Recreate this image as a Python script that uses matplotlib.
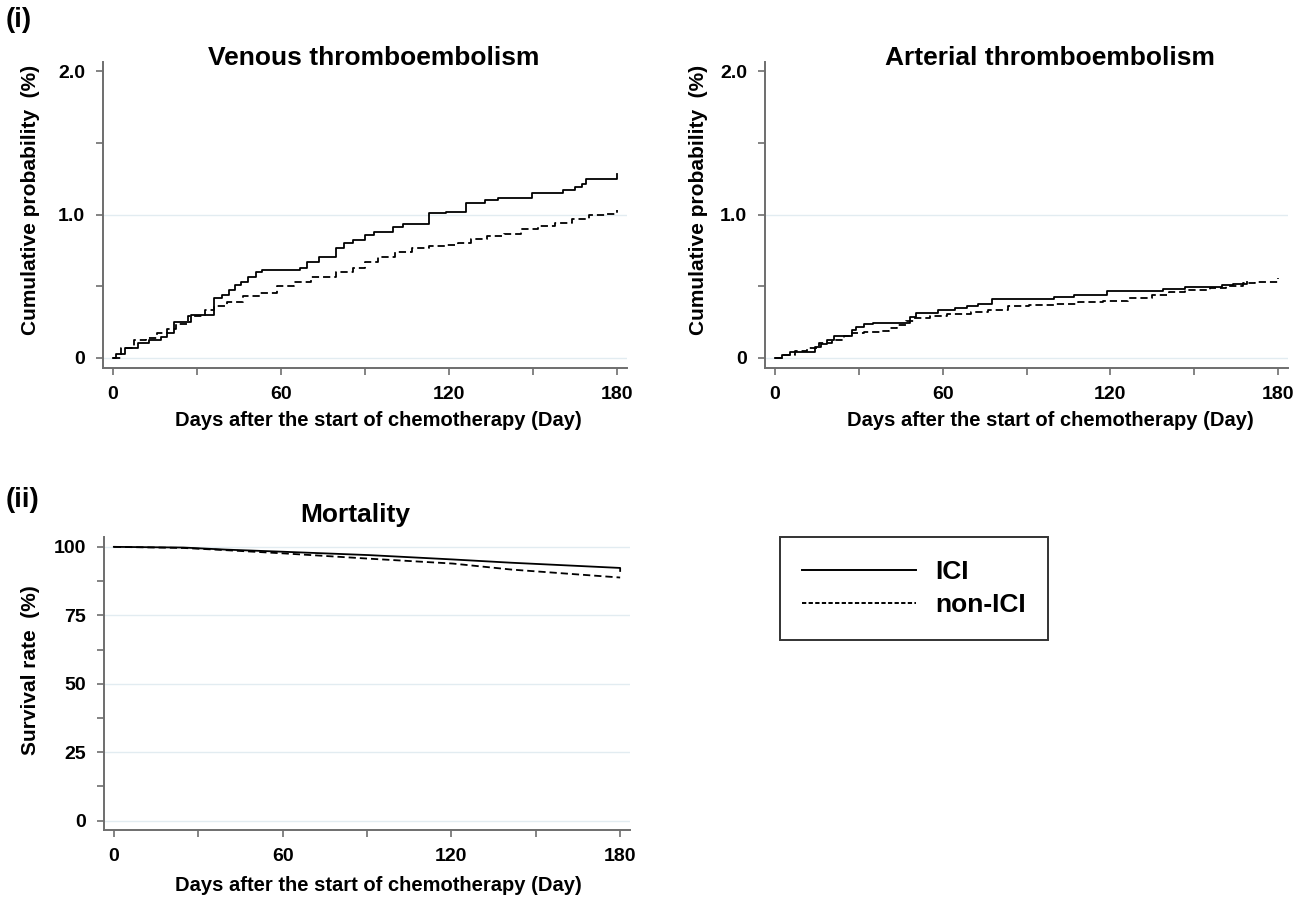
import matplotlib
matplotlib.use('Agg')
import matplotlib.pyplot as plt
from matplotlib.ticker import FixedLocator
from matplotlib.lines import Line2D

plt.rcParams['font.family'] = ['Liberation Sans', 'DejaVu Sans']
plt.rcParams['font.weight'] = 'bold'

# ---------------- data ----------------
vte_ici_days = [0, 1.0, 4.5, 9.0, 12.8, 17.3, 19.5, 21.8, 27.8, 36.1, 39.1, 41.3, 43.6, 45.8,
                48.1, 51.1, 53.3, 66.9, 69.2, 73.6, 79.6, 82.6, 85.6, 90.1, 93.1, 99.9,
                103.7, 112.7, 119.0, 126.2, 133.0, 137.5, 149.5, 160.8, 165.0, 167.5, 169.0, 180.0]
vte_ici_vals = [0, 0.03, 0.07, 0.104, 0.127, 0.146, 0.174, 0.248, 0.30, 0.417, 0.44, 0.475, 0.51,
                0.53, 0.567, 0.60, 0.613, 0.625, 0.671, 0.706, 0.764, 0.80, 0.826, 0.856, 0.88,
                0.914, 0.937, 1.01, 1.02, 1.08, 1.10, 1.118, 1.15, 1.17, 1.19, 1.215, 1.25, 1.285]

vte_non_days = [0, 3.0, 7.5, 12.0, 15.8, 19.5, 22.5, 27.0, 33.0, 36.0, 40.6, 46.6, 52.6, 58.6,
                64.6, 70.6, 79.6, 85.6, 90.1, 94.7, 100.7, 106.7, 112.7, 118.7, 123.2, 127.7,
                133.7, 139.7, 145.7, 151.7, 157.7, 163.8, 169.8, 175.8, 180.0]
vte_non_vals = [0, 0.07, 0.127, 0.14, 0.174, 0.20, 0.24, 0.29, 0.336, 0.36, 0.39, 0.43, 0.456,
                0.50, 0.53, 0.567, 0.60, 0.625, 0.67, 0.706, 0.74, 0.77, 0.78, 0.79, 0.80, 0.833,
                0.85, 0.868, 0.90, 0.92, 0.94, 0.972, 0.995, 1.007, 1.035]

ate_ici_days = [0, 2.6, 5.6, 14.4, 16.6, 18.8, 21.0, 27.6, 29.1, 32.0, 35.0, 48.2, 50.4, 58.5,
                64.4, 68.8, 72.5, 77.6, 99.7, 107.0, 118.8, 138.7, 146.8, 160.0, 163.7, 168.8]
ate_ici_vals = [0, 0.023, 0.04, 0.08, 0.10, 0.126, 0.15, 0.195, 0.218, 0.237, 0.246, 0.287,
                0.315, 0.338, 0.35, 0.36, 0.38, 0.414, 0.425, 0.437, 0.467, 0.483, 0.494, 0.506,
                0.517, 0.533]

ate_non_days = [0, 2.6, 7.1, 11.5, 15.9, 20.3, 24.7, 27.6, 32.0, 37.9, 40.9, 43.8, 46.8, 49.7,
                55.6, 61.5, 70.3, 76.2, 83.5, 90.9, 99.7, 108.5, 117.4, 126.2, 135.0, 140.9,
                146.8, 155.6, 161.5, 167.4, 171.8, 180.0]
ate_non_vals = [0, 0.023, 0.046, 0.069, 0.103, 0.126, 0.15, 0.172, 0.184, 0.19, 0.207, 0.23,
                0.26, 0.276, 0.292, 0.306, 0.322, 0.338, 0.36, 0.368, 0.38, 0.39, 0.40, 0.42,
                0.437, 0.46, 0.476, 0.49, 0.499, 0.52, 0.53, 0.559]

mort_ici_days = [0, 24.7, 39.7, 60.6, 90.5, 120.5, 141.4, 180.0, 180.0]
mort_ici_vals = [100, 99.75, 99.0, 98.2, 97.0, 95.4, 94.2, 92.3, 91.2]
mort_non_days = [0, 24.7, 39.7, 60.6, 90.5, 120.5, 141.4, 180.0]
mort_non_vals = [100, 99.6, 98.8, 97.6, 95.7, 93.9, 91.7, 88.8]

x_ticks = [0, 60, 120, 180]
x_minor = [30, 90, 150]
cum_ticks = [0, 1.0, 2.0]
cum_labels = ['0', '1.0', '2.0']
cum_minor = [0.5, 1.5]
cum_grid = [0, 1.0]
surv_ticks = [0, 25, 50, 75, 100]
surv_minor = [12.5, 37.5, 62.5, 87.5]

series_labels = ['ICI', 'non-ICI']
titles = ['Venous thromboembolism', 'Arterial thromboembolism', 'Mortality']
xlabel = 'Days after the start of chemotherapy (Day)'
ylabel_cum = 'Cumulative probability  (%)'
ylabel_surv = 'Survival rate  (%)'

# ---------------- figure ----------------
W, H = 1311, 897
fig = plt.figure(figsize=(W / 100, H / 100), dpi=100)
fig.patch.set_facecolor('white')

def px_axes(l, t, r, b):
    return fig.add_axes([l / W, 1 - b / H, (r - l) / W, (b - t) / H])

GRID = '#e2ecf1'
SPINE = '#6e6e6e'
LW = 1.3
DASH = (4, 2.2)

def style(ax, ticks, labels, minor, ylim, grid):
    ax.set_xlim(-3.5, 183.5)
    ax.set_ylim(*ylim)
    for s in ['top', 'right']:
        ax.spines[s].set_visible(False)
    for s in ['left', 'bottom']:
        ax.spines[s].set_color(SPINE)
        ax.spines[s].set_linewidth(1.4)
    ax.xaxis.set_major_locator(FixedLocator(x_ticks))
    ax.xaxis.set_minor_locator(FixedLocator(x_minor))
    ax.set_xticklabels([str(v) for v in x_ticks])
    ax.yaxis.set_major_locator(FixedLocator(ticks))
    ax.yaxis.set_minor_locator(FixedLocator(minor))
    ax.set_yticklabels(labels)
    ax.tick_params(which='both', direction='out', length=5, width=1.2, color=SPINE,
                   labelsize=14, pad=8)
    for t in ax.get_xticklabels() + ax.get_yticklabels():
        t.set_fontweight('bold')
    for v in grid:
        ax.axhline(v, color=GRID, lw=1.0, zorder=0)

# Panel (i) venous
ax1 = px_axes(103, 62, 627, 368)
ax1.step(vte_ici_days, vte_ici_vals, where='post', color='black', lw=LW, label=series_labels[0])
ax1.step(vte_non_days, vte_non_vals, where='post', color='black', lw=LW, ls=(0, DASH),
         label=series_labels[1])
style(ax1, cum_ticks, cum_labels, cum_minor, (-0.07, 2.065), cum_grid)

# Panel (i) arterial
ax2 = px_axes(765, 62, 1288, 368)
ax2.step(ate_ici_days, ate_ici_vals, where='post', color='black', lw=LW)
ax2.step(ate_non_days, ate_non_vals, where='post', color='black', lw=LW, ls=(0, DASH))
style(ax2, cum_ticks, cum_labels, cum_minor, (-0.07, 2.065), cum_grid)

# Panel (ii) mortality
ax3 = px_axes(104, 537, 630, 830)
ax3.plot(mort_ici_days, mort_ici_vals, color='black', lw=LW)
ax3.plot(mort_non_days, mort_non_vals, color='black', lw=LW, ls=(0, DASH))
style(ax3, surv_ticks, [str(v) for v in surv_ticks], surv_minor, (-3.4, 103.6), surv_ticks)

def ftext(x, y, s, size, rot=0):
    fig.text(x / W, 1 - y / H, s, ha='center', va='center', fontsize=size,
             fontweight='bold', rotation=rot)

ftext(374, 58, titles[0], 19)
ftext(1050, 58, titles[1], 19)
ftext(355, 515, titles[2], 19)
ftext(31, 200, ylabel_cum, 15, 90)
ftext(699, 200, ylabel_cum, 15, 90)
ftext(31, 670, ylabel_surv, 15, 90)
ftext(378, 420, xlabel, 14.5)
ftext(1050, 420, xlabel, 14.5)
ftext(378, 885, xlabel, 14.5)
fig.text(6 / W, 1 - 20 / H, '(i)', ha='left', va='center', fontsize=20, fontweight='bold')
fig.text(6 / W, 1 - 500 / H, '(ii)', ha='left', va='center', fontsize=20, fontweight='bold')

# Legend
lh = [Line2D([], [], color='black', lw=1.4),
      Line2D([], [], color='black', lw=1.4, ls=(0, (2.2, 1.2)))]
leg = fig.legend(lh, series_labels, loc='center',
                 bbox_to_anchor=(((771 + 1057) / 2) / W, 1 - ((537 + 640) / 2) / H),
                 frameon=True, fancybox=False, edgecolor='black',
                 handlelength=4.3, handletextpad=0.75, borderpad=0.85, labelspacing=0.35,
                 borderaxespad=0, prop={'weight': 'bold', 'size': 19})
leg.get_frame().set_linewidth(1.4)

fig.savefig('out.png', dpi=100, facecolor='white')
